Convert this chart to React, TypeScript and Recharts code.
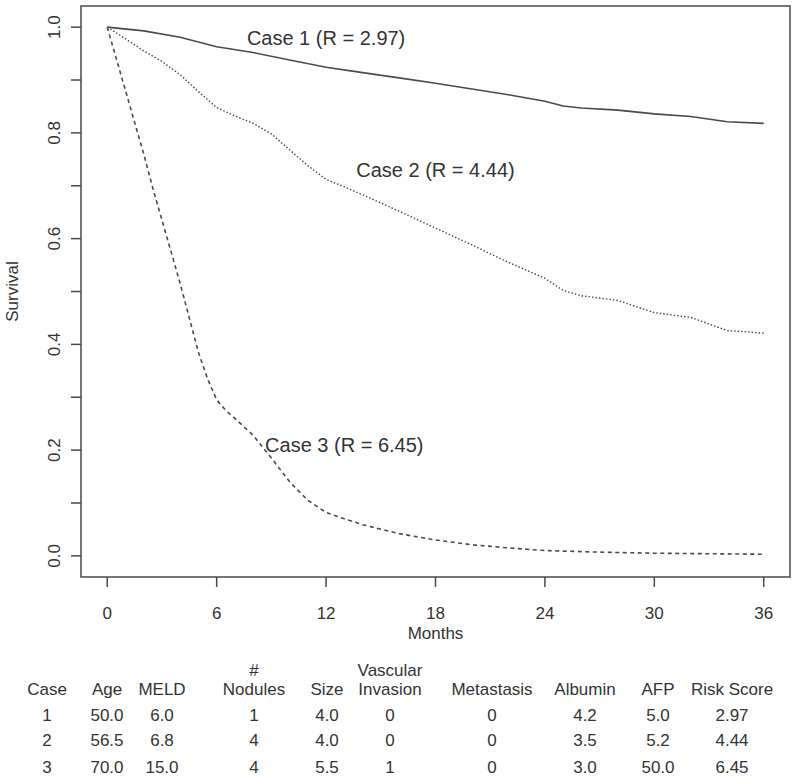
import React from 'react';
import { LineChart, Line, XAxis, YAxis, ReferenceArea, ReferenceDot } from 'recharts';

// survival curves (months -> survival probability)
const case1Months = [0, 2, 4, 5, 6, 8, 10, 12, 14, 16, 18, 20, 22, 24, 25, 26, 28, 30, 32, 34, 36];
const case1Survival = [1.0, 0.993, 0.981, 0.972, 0.963, 0.952, 0.938, 0.924, 0.914, 0.904, 0.894, 0.883, 0.872, 0.86, 0.851, 0.847, 0.843, 0.836, 0.831, 0.821, 0.818];

const case2Months = [0, 1, 2, 3, 4, 5, 6, 7, 8, 9, 10, 11, 12, 13, 14, 16, 18, 20, 22, 24, 25, 26, 28, 30, 32, 34, 35, 36];
const case2Survival = [1.0, 0.978, 0.955, 0.935, 0.91, 0.878, 0.848, 0.832, 0.818, 0.798, 0.768, 0.738, 0.712, 0.698, 0.683, 0.652, 0.62, 0.588, 0.555, 0.525, 0.502, 0.492, 0.483, 0.46, 0.451, 0.426, 0.424, 0.421];

const case3Months = [0, 0.5, 1, 1.5, 2, 2.5, 3, 3.5, 4, 4.5, 5, 5.5, 6, 6.5, 7, 8, 9, 10, 11, 12, 13, 14, 16, 18, 20, 22, 24, 27, 30, 33, 36];
const case3Survival = [1.0, 0.94, 0.88, 0.82, 0.76, 0.695, 0.635, 0.575, 0.515, 0.45, 0.385, 0.335, 0.295, 0.275, 0.26, 0.228, 0.185, 0.14, 0.105, 0.082, 0.07, 0.059, 0.042, 0.03, 0.021, 0.015, 0.01, 0.007, 0.005, 0.004, 0.003];

const xTicks = [0, 6, 12, 18, 24, 30, 36];
const yTicks = [0, 0.1, 0.2, 0.3, 0.4, 0.5, 0.6, 0.7, 0.8, 0.9, 1.0];

const curveLabels = ['Case 1 (R = 2.97)', 'Case 2 (R = 4.44)', 'Case 3 (R = 6.45)'];
const labelX = [12, 18, 13];
const labelY = [0.98, 0.73, 0.21];

// table under the plot
const tableHeadTop = ['', '', '', '#', '', 'Vascular', '', '', '', ''];
const tableHeadBottom = ['Case', 'Age', 'MELD', 'Nodules', 'Size', 'Invasion', 'Metastasis', 'Albumin', 'AFP', 'Risk Score'];
const tableRows = [
  ['1', '50.0', '6.0', '1', '4.0', '0', '0', '4.2', '5.0', '2.97'],
  ['2', '56.5', '6.8', '4', '4.0', '0', '0', '3.5', '5.2', '4.44'],
  ['3', '70.0', '15.0', '4', '5.5', '1', '0', '3.0', '50.0', '6.45'],
];
const columnCenters = [47, 107, 162, 254, 327, 390, 492, 585, 658, 732];
const rowCenters = [715, 740, 767];

const toPoints = (months: number[], values: number[]) =>
  months.map((m, i) => ({ month: m, survival: values[i] }));

const FONT = '"Liberation Sans", Arial, Helvetica, sans-serif';
const INK = '#333';
const LINE = '#4a4a4a';

const XTick = (props: any) => {
  const { x, payload } = props;
  return (
    <text x={x} y={613} textAnchor="middle" dominantBaseline="central" fontSize={17} fill={INK} fontFamily={FONT}>
      {payload.value}
    </text>
  );
};

const YTick = (props: any) => {
  const { y, payload } = props;
  if (Math.round(payload.value * 10) % 2 !== 0) return <g />;
  return (
    <text
      x={55}
      y={y}
      transform={`rotate(-90 55 ${y})`}
      textAnchor="middle"
      dominantBaseline="central"
      fontSize={17}
      fill={INK}
      fontFamily={FONT}
    >
      {payload.value.toFixed(1)}
    </text>
  );
};

const Cell = ({ x, y, text }: { x: number; y: number; text: string }) => (
  <div
    style={{
      position: 'absolute',
      left: x,
      top: y,
      transform: 'translate(-50%, -50%)',
      whiteSpace: 'nowrap',
      fontSize: 17,
      lineHeight: '17px',
      color: INK,
      fontFamily: FONT,
    }}
  >
    {text}
  </div>
);

export default function App() {
  const series = [
    { key: 'c1', data: toPoints(case1Months, case1Survival), dash: undefined, width: 1.6 },
    { key: 'c2', data: toPoints(case2Months, case2Survival), dash: '1.5 2', width: 1.4 },
    { key: 'c3', data: toPoints(case3Months, case3Survival), dash: '4 3.5', width: 1.6 },
  ];

  return (
    <div style={{ position: 'absolute', left: 0, top: 0, width: 800, height: 780, background: '#fff', fontFamily: FONT }}>
      <LineChart width={800} height={650} margin={{ top: 6, right: 10, bottom: 10, left: 0 }}>
        <XAxis
          dataKey="month"
          type="number"
          domain={[-1.44, 37.44]}
          ticks={xTicks}
          allowDataOverflow
          axisLine={false}
          tickSize={10}
          tickLine={{ stroke: LINE, strokeWidth: 1.5 }}
          tick={<XTick />}
          height={63}
          label={{
            value: 'Months',
            content: (p: any) => (
              <text
                x={p.viewBox.x + p.viewBox.width / 2}
                y={633}
                textAnchor="middle"
                dominantBaseline="central"
                fontSize={17}
                fill={INK}
                fontFamily={FONT}
              >
                Months
              </text>
            ),
          }}
        />
        <YAxis
          type="number"
          domain={[-0.04, 1.04]}
          ticks={yTicks}
          allowDataOverflow
          axisLine={false}
          tickSize={10}
          tickLine={{ stroke: LINE, strokeWidth: 1.5 }}
          tick={<YTick />}
          width={81}
          label={{
            value: 'Survival',
            content: (p: any) => {
              const cy = p.viewBox.y + p.viewBox.height / 2;
              return (
                <text
                  x={12}
                  y={cy}
                  transform={`rotate(-90 12 ${cy})`}
                  textAnchor="middle"
                  dominantBaseline="central"
                  fontSize={17}
                  fill={INK}
                  fontFamily={FONT}
                >
                  Survival
                </text>
              );
            },
          }}
        />
        <ReferenceArea
          x1={-1.44}
          x2={37.44}
          y1={-0.04}
          y2={1.04}
          fill="none"
          fillOpacity={0}
          stroke={LINE}
          strokeWidth={1.5}
          ifOverflow="visible"
        />
        {series.map((s) => (
          <Line
            key={s.key}
            data={s.data}
            dataKey="survival"
            type="linear"
            stroke={LINE}
            strokeWidth={s.width}
            strokeDasharray={s.dash}
            dot={false}
            activeDot={false}
            isAnimationActive={false}
          />
        ))}
        {curveLabels.map((t, i) => (
          <ReferenceDot
            key={t}
            x={labelX[i]}
            y={labelY[i]}
            r={0}
            fill="none"
            stroke="none"
            ifOverflow="visible"
            label={{
              content: (p: any) => (
                <text
                  x={p.viewBox.x + (p.viewBox.width || 0) / 2}
                  y={p.viewBox.y + (p.viewBox.height || 0) / 2}
                  textAnchor="middle"
                  dominantBaseline="central"
                  fontSize={20}
                  fill={INK}
                  fontFamily={FONT}
                >
                  {t}
                </text>
              ),
            }}
          />
        ))}
      </LineChart>
      {tableHeadTop.map((t, i) => (t ? <Cell key={`ht${i}`} x={columnCenters[i]} y={670} text={t} /> : null))}
      {tableHeadBottom.map((t, i) => (
        <Cell key={`hb${i}`} x={columnCenters[i]} y={689} text={t} />
      ))}
      {tableRows.map((row, r) =>
        row.map((t, i) => <Cell key={`r${r}c${i}`} x={columnCenters[i]} y={rowCenters[r]} text={t} />)
      )}
    </div>
  );
}
